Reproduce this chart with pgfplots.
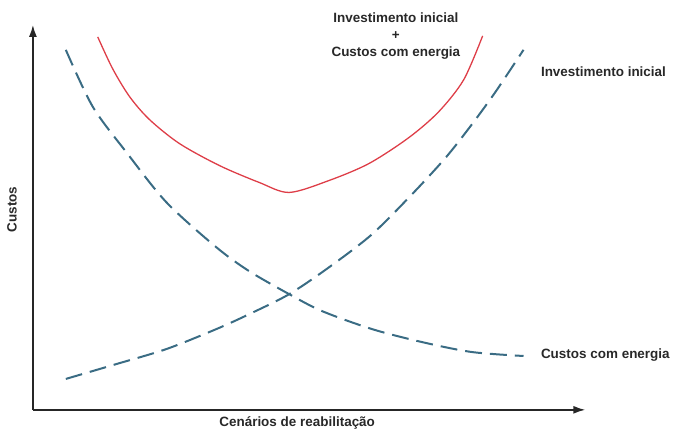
\documentclass[border=0pt]{standalone}
\usepackage{pgfplots}
\pgfplotsset{compat=1.18}
\usepackage{fontspec}
\setmainfont{Liberation Sans}
\usetikzlibrary{arrows.meta}
\definecolor{redc}{RGB}{222,62,72}
\definecolor{bluec}{RGB}{58,108,132}
\definecolor{txt}{RGB}{40,40,40}
\tikzset{lbl/.style={font=\fontsize{13.5}{17}\selectfont\bfseries, text=txt}}
\begin{document}
\begin{tikzpicture}[x=1pt,y=1pt]
\begin{axis}[
  scale only axis,
  width=554pt, height=386pt,
  xmin=33, xmax=587, ymin=19, ymax=405,
  axis lines=left,
  axis line style={line width=1.6pt, color=black!85, -{Latex[length=12pt,width=8pt]}},
  xtick=\empty, ytick=\empty,
  clip=false,
]
% Investimento inicial + Custos com energia (red)
\addplot[redc, line width=1.3pt, smooth, tension=0.5] coordinates {
 (98,393) (113,361) (130,333) (150,310) (180,286) (220,264) (260,247) (290,237)
 (330,249) (370,266) (410,292) (440,318) (465,350) (484,394)
};
% Custos com energia (decreasing, dashed)
\addplot[bluec, line width=2pt, dash pattern=on 17pt off 8pt, smooth, tension=0.5] coordinates {
 (66,380) (93,323) (127,277) (167,227) (217,182) (250,158) (290,135)
 (323,118) (373,100) (423,87) (473,77) (525,73)
};
% Investimento inicial (increasing, dashed)
\addplot[bluec, line width=2pt, dash pattern=on 17pt off 8pt, smooth, tension=0.5] coordinates {
 (66,50) (117,65) (167,80) (217,100) (250,115) (290,135) (330,162)
 (373,195) (413,235) (447,272) (473,305) (497,338) (525,380)
};
\node[lbl, align=center] at (axis cs:397,394) {Investimento inicial\\+\\Custos com energia};
\node[lbl, anchor=west] at (axis cs:539,358) {Investimento inicial};
\node[lbl, anchor=west] at (axis cs:539,74) {Custos com energia};
\node[lbl] at (axis cs:298,6) {Cenários de reabilitação};
\node[lbl, rotate=90] at (axis cs:12,220) {Custos};
\coordinate (bl) at (axis cs:0,0);
\coordinate (tr) at (axis cs:673,430);
\end{axis}
\useasboundingbox (bl) rectangle (tr);
\end{tikzpicture}
\end{document}
